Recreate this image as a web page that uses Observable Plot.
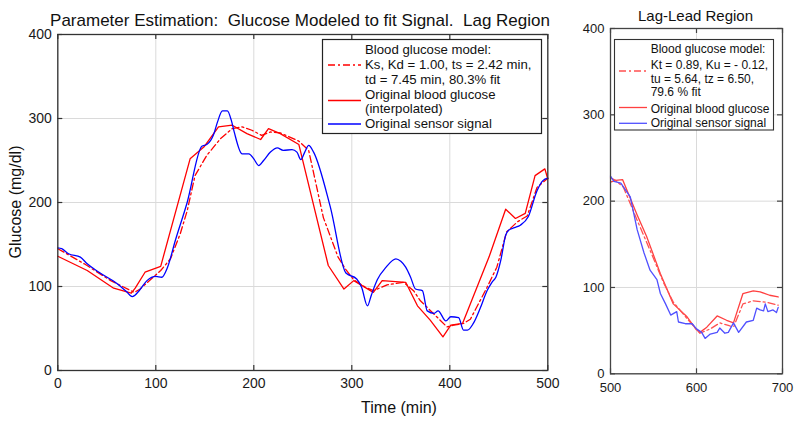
<!DOCTYPE html>
<html><head><meta charset="utf-8">
<script src="https://cdn.jsdelivr.net/npm/d3@7"></script>
<script src="https://cdn.jsdelivr.net/npm/@observablehq/plot@0.6"></script>
<style>
body{margin:0;background:#fff;font-family:"Liberation Sans",Arial,sans-serif;}
#wrap{position:relative;width:800px;height:422px;overflow:hidden;background:#fff;}
#wrap > svg, #wrap > figure{position:absolute;top:0;margin:0;}
</style></head><body><div id="wrap"></div>
<script>
// ---------- Left panel: Lag region ----------
const xTicksL = [0, 100, 200, 300, 400, 500];
const yTicks = [0, 100, 200, 300, 400];
const xTicksR = [500, 600, 700];

// Original blood glucose (interpolated), red solid
const bgTime = [0,30,57,75,79,89,105,135,149,164,178,193,207,215,227,246,276,292,302,322,331,355,367,380,393,401,413,440,457,467,477,487,497,500];
const bgVal  = [136,119,98,92,98,117,124,252,266,290,292,282,275,288,282,269,125,97,107,93,107,105,77,60,40,54,56,135,192,181,187,232,240,228];

// Original sensor signal, blue
const sensTime = [0,4,11,23,30,42,61,70,76,83,91,100,106,112,120,132,147,152,159,163,168,173,177,180,188,195,200,205,210,217,224,230,239,244,248,252,256,261,278,294,305,310,316,320,326,335,345,350,355,360,365,372,377,384,388,396,401,409,414,418,424,431,438,443,447,452,457,460,466,472,480,489,495,500];
const sensVal  = [146,145,139,135,127,117,103,94,88,95,107,112,111,123,155,200,267,269,281,296,309,309,298,284,258,258,252,244,250,260,265,262,263,260,251,260,268,260,195,116,109,99,77,90,108,123,133,130,123,111,97,95,71,68,71,59,64,63,48,48,56,74,95,105,111,131,161,167,170,173,183,214,226,229];

// Blood glucose model, red dash-dot
const modTime = [0,27,54,78,84,105,115,125,132,140,152,166,178,188,198,208,217,227,246,256,271,286,294,302,314,322,336,353,363,370,384,397,404,414,421,438,448,458,469,479,489,500];
const modVal  = [145,127,107,93,97,119,133,163,190,232,256,276,288,290,286,280,284,283,273,262,182,135,120,108,99,95,102,105,95,83,67,52,54,56,61,99,123,165,177,184,218,229];

// ---------- Right panel: Lag-Lead region ----------
const bg2Time = [500,506,514,531,542,558,573,589,600,604,612,624,635,643,654,666,674,685,695];
const bg2Val  = [222,224,225,184,159,116,81,66,51,48,54,67,62,59,93,96,95,91,89];

const mod2Time = [500,506,515,531,546,562,573,589,604,616,627,637,643,654,666,681,695];
const mod2Val  = [227,224,216,178,143,105,83,64,47,52,59,56,54,81,84.5,83,79.5];

const sens2Time = [500,504,512,523,531,539,546,554,558,564,570,577,579,587,595,600,606,610,616,624,627,633,637,643,649,658,666,670,674,678,680,683,689,693,695];
const sens2Val  = [229,223,221,205,167,140,120,109,93,81,68,72,60,58,58,52,48,41,46,48,53,47,48,59,48,60,62,76,74,73,81,72,74,71,77];

// ---------- legend / label text ----------
const titleL = "Parameter Estimation:  Glucose Modeled to fit Signal.  Lag Region";
const titleR = "Lag-Lead Region";
const yLabel = "Glucose (mg/dl)";
const xLabel = "Time (min)";
const legendL = ["Blood glucose model:", "Ks, Kd = 1.00, ts = 2.42 min,", "td = 7.45 min, 80.3% fit", "Original blood glucose", "(interpolated)", "Original sensor signal"];
const legendR = ["Blood glucose model:", "Kt = 0.89, Ku = - 0.12,", "tu = 5.64, tz = 6.50,", "79.6 % fit", "Original blood glucose", "Original sensor signal"];

const mk = (xs, ys) => xs.map((x, i) => ({t: x, g: ys[i]}));
const font = "Liberation Sans, Arial, Helvetica, sans-serif";
const wrap = document.getElementById("wrap");

function panel({width, ml, mr, mt, mb, xDomain, xTicks, series, fontSize, tickPadX, tickPadY, frameColor}) {
  const pw = width - ml - mr, ph = 422 - mt - mb;
  return Plot.plot({
    width, height: 422,
    marginLeft: ml, marginRight: mr, marginTop: mt, marginBottom: mb,
    x: {domain: xDomain}, y: {domain: [0, 400]},
    style: {fontFamily: font, fontSize: fontSize + "px", color: "#1a1a1a", background: "transparent", overflow: "visible"},
    marks: [
      Plot.gridX(xTicks, {stroke: "#dadada", strokeOpacity: 1}),
      Plot.gridY(yTicks, {stroke: "#dadada", strokeOpacity: 1}),
      ...series.map(s => Plot.line(mk(s.x, s.y), {x: "t", y: "g", stroke: s.color, strokeWidth: s.w || 1.3, strokeDasharray: s.dash, curve: s.curve || "linear"})),
      Plot.ruleX(xTicks, {x: d => d, insetTop: ph - 5, stroke: frameColor, strokeWidth: 1.2}),
      Plot.ruleX(xTicks, {x: d => d, insetBottom: ph - 5, stroke: frameColor, strokeWidth: 1.2}),
      Plot.ruleY(yTicks, {y: d => d, insetRight: pw - 5, stroke: frameColor, strokeWidth: 1.2}),
      Plot.ruleY(yTicks, {y: d => d, insetLeft: pw - 5, stroke: frameColor, strokeWidth: 1.2}),
      Plot.frame({stroke: frameColor, strokeWidth: 1.3}),
      Plot.axisX(xTicks, {tickSize: 0, tickPadding: tickPadX, label: null, fontSize}),
      Plot.axisY(yTicks, {tickSize: 0, tickPadding: tickPadY, label: null, fontSize})
    ]
  });
}

const left = panel({
  width: 560, ml: 57.3, mr: 12.7, mt: 34, mb: 52, xDomain: [0, 500], xTicks: xTicksL,
  fontSize: 14, tickPadX: 8, tickPadY: 6, frameColor: "#333",
  series: [
    {x: bgTime, y: bgVal, color: "#ff0000"},
    {x: modTime, y: modVal, color: "#ff0000", dash: "7,3,2,3"},
    {x: sensTime, y: sensVal, color: "#0000ff", curve: "monotone-x"}
  ]
});
left.style.left = "0px";
wrap.appendChild(left);

const right = panel({
  width: 240, ml: 50, mr: 18, mt: 28, mb: 48.7, xDomain: [500, 700], xTicks: xTicksR,
  fontSize: 13, tickPadX: 8.5, tickPadY: 6, frameColor: "#444",
  series: [
    {x: bg2Time, y: bg2Val, color: "#ff4040"},
    {x: mod2Time, y: mod2Val, color: "#ff5050", dash: "7,3,2,3"},
    {x: sens2Time, y: sens2Val, color: "#5050ff"}
  ]
});
right.style.left = "560px";
wrap.appendChild(right);

// ---------- overlay: titles, axis labels, legends ----------
const NS = "http://www.w3.org/2000/svg";
const ov = document.createElementNS(NS, "svg");
ov.setAttribute("width", 800); ov.setAttribute("height", 422);
ov.style.position = "absolute"; ov.style.left = "0px"; ov.style.top = "0px";
ov.style.fontFamily = font;
wrap.appendChild(ov);
function el(tag, attrs, text) {
  const e = document.createElementNS(NS, tag);
  for (const k in attrs) e.setAttribute(k, attrs[k]);
  if (text != null) e.textContent = text;
  ov.appendChild(e);
  return e;
}
el("text", {x: 300, y: 25.5, "text-anchor": "middle", "font-size": 17, fill: "#111", "xml:space": "preserve", style: "white-space:pre"}, titleL);
el("text", {x: 695.5, y: 20.5, "text-anchor": "middle", "font-size": 15, fill: "#111"}, titleR);
el("text", {transform: "translate(21,202) rotate(-90)", "text-anchor": "middle", "font-size": 16, fill: "#111"}, yLabel);
el("text", {x: 399, y: 413, "text-anchor": "middle", "font-size": 16, fill: "#111"}, xLabel);

// left legend
el("rect", {x: 322.5, y: 39.5, width: 219, height: 94, fill: "#fff", stroke: "#222", "stroke-width": 1.2});
el("line", {x1: 328, x2: 361, y1: 65, y2: 65, stroke: "#ff0000", "stroke-width": 1.3, "stroke-dasharray": "7,3,2,3"});
el("line", {x1: 328, x2: 361, y1: 100.5, y2: 100.5, stroke: "#ff0000", "stroke-width": 1.3});
el("line", {x1: 328, x2: 361, y1: 124, y2: 124, stroke: "#0000ff", "stroke-width": 1.3});
const blL = [54.3, 69, 83.5, 98.8, 112.5, 127.8];
legendL.forEach((s, i) => el("text", {x: 365, y: blL[i], "font-size": 13.2, fill: "#111"}, s));

// right legend
el("rect", {x: 614.5, y: 39.5, width: 159, height: 90.5, fill: "#fff", stroke: "#333", "stroke-width": 1.1});
el("line", {x1: 619, x2: 647, y1: 71, y2: 71, stroke: "#ff5050", "stroke-width": 1.3, "stroke-dasharray": "7,3,2,3"});
el("line", {x1: 619, x2: 647, y1: 107.5, y2: 107.5, stroke: "#ff4040", "stroke-width": 1.3});
el("line", {x1: 619, x2: 647, y1: 123.3, y2: 123.3, stroke: "#5050ff", "stroke-width": 1.3});
const blR = [52.6, 69.3, 83.3, 96, 112.6, 127];
legendR.forEach((s, i) => el("text", {x: 650.7, y: blR[i], "font-size": 12, fill: "#111"}, s));
</script></body></html>
